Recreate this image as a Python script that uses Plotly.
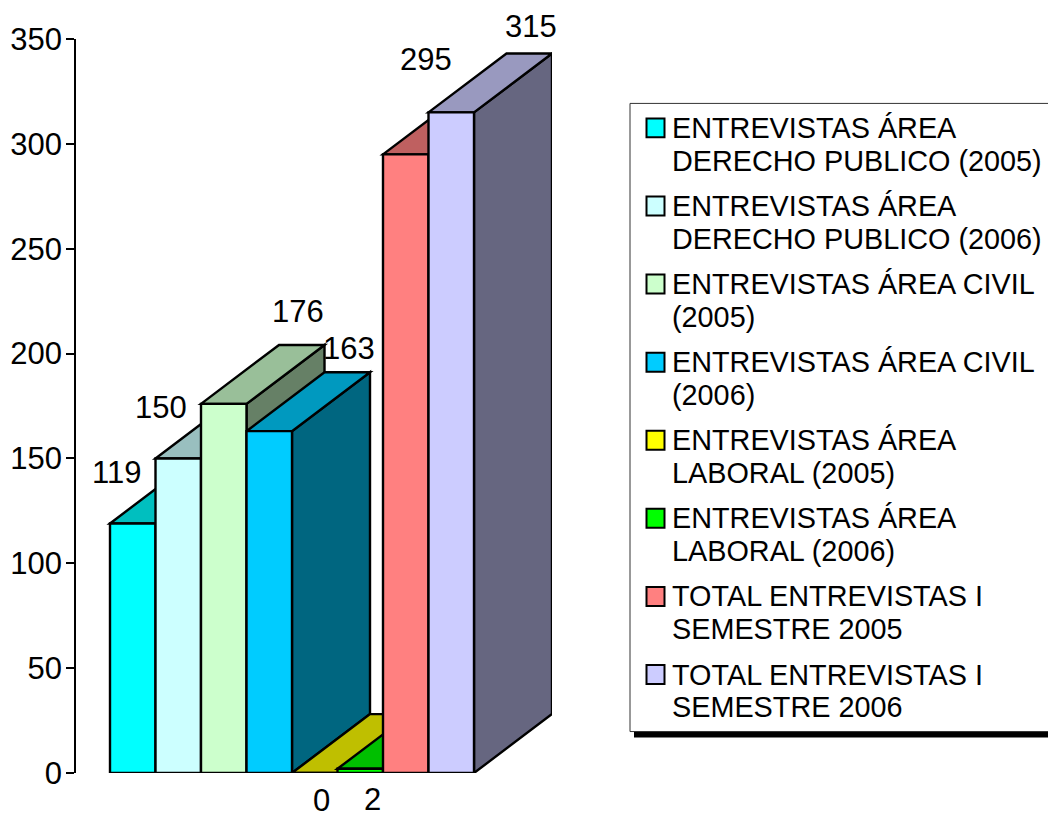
import plotly.graph_objects as go

legend_lines = [
    ["ENTREVISTAS ÁREA", "DERECHO PUBLICO (2005)"],
    ["ENTREVISTAS ÁREA", "DERECHO PUBLICO (2006)"],
    ["ENTREVISTAS ÁREA CIVIL", "(2005)"],
    ["ENTREVISTAS ÁREA CIVIL", "(2006)"],
    ["ENTREVISTAS ÁREA", "LABORAL (2005)"],
    ["ENTREVISTAS ÁREA", "LABORAL (2006)"],
    ["TOTAL ENTREVISTAS I", "SEMESTRE 2005"],
    ["TOTAL ENTREVISTAS I", "SEMESTRE 2006"],
]
values = [119, 150, 176, 163, 0, 2, 295, 315]
front_colors = ["#00FFFF", "#CCFFFF", "#CCFFCC", "#00CCFF", "#FFFF00", "#00FF00", "#FF8080", "#CCCCFF"]
top_colors = ["#00BFBF", "#99BFBF", "#99BF99", "#0099BF", "#BFBF00", "#00BF00", "#BF6060", "#9999BF"]
side_colors = ["#008080", "#668080", "#668066", "#006680", "#808000", "#008000", "#804040", "#666680"]
y_ticks = [0, 50, 100, 150, 200, 250, 300, 350]

# pixel nudges of the hand-placed data labels (right, up)
label_shift = [(-16, 51), (-17, 51), (74, 92), (80, 83), (7, -27), (12, -31), (20, 95), (80, 86)]

W, H = 1048, 817
PLOT_L, PLOT_R, PLOT_T, PLOT_B = 76, 552, 38.5, 773.5
BAR_PX = 45.5
FIRST_CENTER = 132.75
PX_PER_UNIT = (PLOT_B - PLOT_T) / 350
DX = 78 / BAR_PX
DY = 59 / PX_PER_UNIT
FONT = "Liberation Sans, Arial, sans-serif"
FS_NUM = 31
FS_LEG = 28.8
INK = "#000000"
EDGE = 2.4

x_range = [(PLOT_L - FIRST_CENTER) / BAR_PX, (PLOT_R - FIRST_CENTER) / BAR_PX]


def px_x(px):
    return (px - PLOT_L) / (PLOT_R - PLOT_L)


def px_y(px):
    return (PLOT_B - px) / (PLOT_B - PLOT_T)


shapes = []
for i, v in enumerate(values):
    l, r = i - 0.5, i + 0.5
    side = f"M{r},0 L{r + DX},{DY} L{r + DX},{v + DY} L{r},{v} Z"
    top = f"M{l},{v} L{l + DX},{v + DY} L{r + DX},{v + DY} L{r},{v} Z"
    for path, col in ((side, side_colors[i]), (top, top_colors[i])):
        shapes.append(dict(type="path", path=path, xref="x", yref="y", layer="below",
                           fillcolor=col, line=dict(color=INK, width=EDGE)))

# legend box with its drop shadow
LEG_L, LEG_T, LEG_B = 630, 103, 732
shapes.append(dict(type="rect", xref="paper", yref="paper", layer="below",
                   x0=px_x(LEG_L + 4), x1=px_x(W + 10), y0=px_y(LEG_B + 6), y1=px_y(LEG_B - 6),
                   fillcolor=INK, line=dict(width=0)))
shapes.append(dict(type="rect", xref="paper", yref="paper", layer="below",
                   x0=px_x(LEG_L), x1=px_x(W + 10), y0=px_y(LEG_B), y1=px_y(LEG_T),
                   fillcolor="white", line=dict(color="#333333", width=1)))

annotations = []
for i, v in enumerate(values):
    annotations.append(dict(x=i, y=v, xref="x", yref="y", text=str(v), showarrow=False,
                            xshift=label_shift[i][0], yshift=label_shift[i][1],
                            font=dict(family=FONT, size=FS_NUM, color=INK)))

ITEM_TOP, ITEM_PITCH, LINE_PITCH = 127.5, 78.2, 33
for k, lines in enumerate(legend_lines):
    cy = ITEM_TOP + k * ITEM_PITCH
    shapes.append(dict(type="rect", xref="paper", yref="paper", layer="above",
                       x0=px_x(646.5), x1=px_x(664.5), y0=px_y(cy + 9.5), y1=px_y(cy - 9.5),
                       fillcolor=front_colors[k], line=dict(color=INK, width=2)))
    for j, line in enumerate(lines):
        annotations.append(dict(x=px_x(670), y=px_y(cy + j * LINE_PITCH), xref="paper", yref="paper",
                                text=line, showarrow=False, xanchor="left", yanchor="middle",
                                font=dict(family=FONT, size=FS_LEG, color=INK)))

fig = go.Figure()
fig.add_trace(go.Bar(x=list(range(len(values))), y=values, width=1,
                     marker=dict(color=front_colors, line=dict(color=INK, width=EDGE)),
                     showlegend=False, hoverinfo="x+y"))

fig.update_layout(
    width=W, height=H, autosize=False,
    margin=dict(l=PLOT_L, r=W - PLOT_R, t=PLOT_T, b=H - PLOT_B, pad=0, autoexpand=False),
    paper_bgcolor="white", plot_bgcolor="rgba(0,0,0,0)",
    showlegend=False, shapes=shapes, annotations=annotations,
    font=dict(family=FONT, size=FS_NUM, color=INK),
    xaxis=dict(range=x_range, visible=False, fixedrange=True),
    yaxis=dict(range=[0, 350], tickmode="array", tickvals=y_ticks, ticks="outside", ticklen=8,
               tickwidth=1.5, tickcolor=INK, showline=True, linecolor=INK, linewidth=1.5,
               showgrid=False, zeroline=False, tickfont=dict(family=FONT, size=FS_NUM, color=INK),
               ticklabelstandoff=-2, fixedrange=True),
)
fig.write_html("out.html", config={"displayModeBar": False},
               post_script="document.body.style.margin='0';document.documentElement.style.overflow='hidden';")
